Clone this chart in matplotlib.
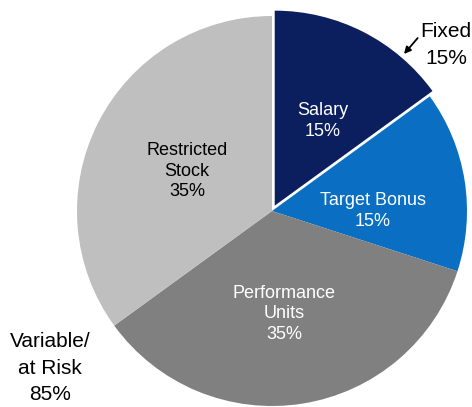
import matplotlib.pyplot as plt

plt.rcParams['font.family'] = ['Liberation Sans', 'DejaVu Sans']

names = ["Salary", "Target Bonus", "Performance\nUnits", "Restricted\nStock"]
shares = [15, 15, 35, 35]
colors = ["#0b1f5e", "#0a6fc2", "#808080", "#bfbfbf"]
text_colors = ["white", "white", "white", "black"]
explode = [6, 0, 0, 0]  # pie offsets in data units (pixels here)

fixed_share = 15
variable_share = 85

W, H = 472, 407
CX, CY, R = 272, H - 211, 195
# label centres, pixel coords from the top-left
label_pos = [(323, 121), (373, 211), (284, 314), (187, 171)]

fig = plt.figure(figsize=(W / 100, H / 100), dpi=100)
ax = fig.add_axes([0, 0, 1, 1])

labels = [f"{n}\n{v}%" for n, v in zip(names, shares)]
wedges, texts = ax.pie(shares, labels=labels, colors=colors, explode=explode,
                       startangle=90, counterclock=False,
                       center=(CX, CY), radius=R,
                       wedgeprops=dict(linewidth=0))
for t, c, (px, py) in zip(texts, text_colors, label_pos):
    t.set_position((px, H - py))
    t.set_color(c)
    t.set_ha("center")
    t.set_va("center")
    t.set_fontsize(13)
    t.set_linespacing(1.3)

ax.set_xlim(0, W)
ax.set_ylim(0, H)
ax.set_aspect("equal")
ax.axis("off")

ax.annotate(f"Fixed\n{fixed_share}%", xy=(404, H - 54), xytext=(446, H - 45),
            ha="center", va="center", fontsize=15, linespacing=1.55,
            arrowprops=dict(arrowstyle="-|>", color="black", lw=1.3,
                            shrinkA=0, shrinkB=0, mutation_scale=10,
                            relpos=(0.0, 0.72)))
ax.text(50, H - 368, f"Variable/\nat Risk\n{variable_share}%", ha="center",
        va="center", fontsize=15, linespacing=1.5)

fig.savefig("out.png", dpi=100)
